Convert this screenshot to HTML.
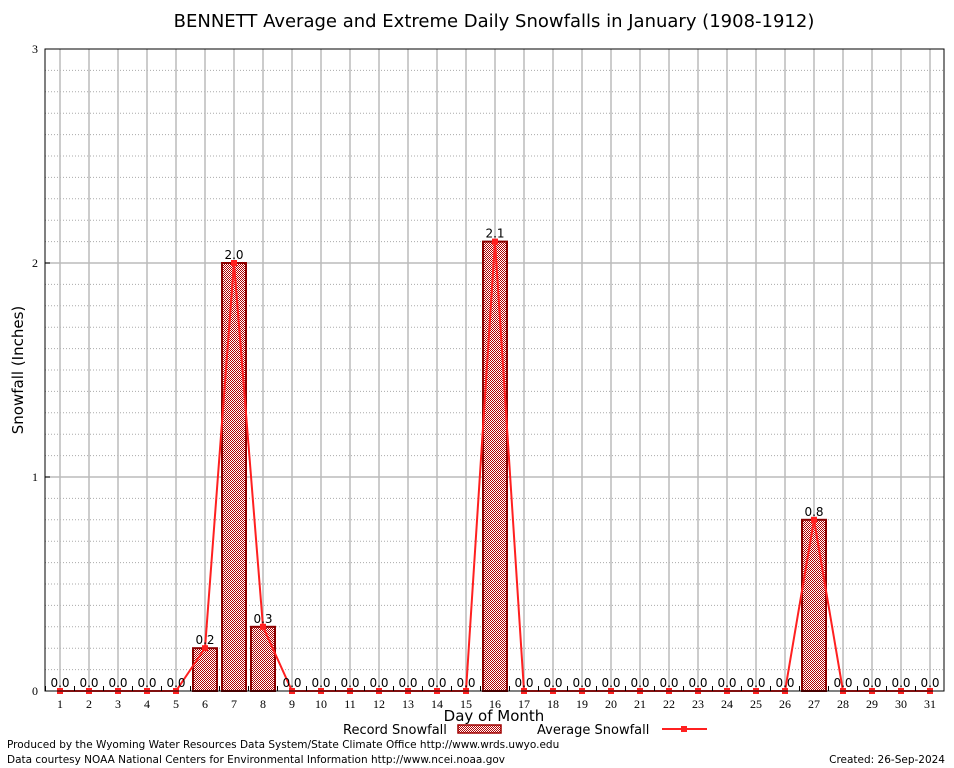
<!DOCTYPE html>
<html><head><meta charset="utf-8"><style>
body{margin:0;background:#fff;width:954px;height:768px;overflow:hidden}
svg{display:block}
</style></head><body>
<svg id="chart" width="954" height="768" xmlns="http://www.w3.org/2000/svg">
<defs>
<pattern id="chk" width="2" height="2" patternUnits="userSpaceOnUse">
<rect width="2" height="2" fill="#fff" shape-rendering="crispEdges"/><rect width="1" height="1" fill="#b00000" shape-rendering="crispEdges"/><rect x="1" y="1" width="1" height="1" fill="#b00000" shape-rendering="crispEdges"/>
</pattern>
</defs>
<rect width="954" height="768" fill="#fff"/>
<text x="494" y="27" text-anchor="middle" font-family="DejaVu Sans, Liberation Sans, sans-serif" font-size="18">BENNETT Average and Extreme Daily Snowfalls in January (1908-1912)</text>
<g id="grid"></g>
<g id="bars"></g>
<g id="line"></g>
<g id="labels"></g>
<g id="ticks"></g>
<rect x="45" y="49" width="899" height="642" fill="none" stroke="#000" stroke-width="1"/>
<text x="23" y="370" transform="rotate(-90 23 370)" text-anchor="middle" font-family="DejaVu Sans, Liberation Sans, sans-serif" font-size="15">Snowfall (Inches)</text>
<text x="494" y="721" text-anchor="middle" font-family="DejaVu Sans, Liberation Sans, sans-serif" font-size="15">Day of Month</text>
<g>
<text x="343" y="734" font-family="DejaVu Sans, Liberation Sans, sans-serif" font-size="13">Record Snowfall</text>
<rect x="458" y="725" width="43" height="8" fill="url(#chk)" stroke="#a00000" stroke-width="1.5"/>
<text x="537" y="734" font-family="DejaVu Sans, Liberation Sans, sans-serif" font-size="13">Average Snowfall</text>
<line x1="662" y1="729" x2="707" y2="729" stroke="#ff2020" stroke-width="2"/>
<rect x="681" y="726" width="6" height="6" fill="#ff2020"/>
</g>
<text x="7" y="748" font-family="DejaVu Sans, Liberation Sans, sans-serif" font-size="10.5">Produced by the Wyoming Water Resources Data System/State Climate Office http://www.wrds.uwyo.edu</text>
<text x="7" y="763" font-family="DejaVu Sans, Liberation Sans, sans-serif" font-size="10.5">Data courtesy NOAA National Centers for Environmental Information http://www.ncei.noaa.gov</text>
<text x="945" y="763" text-anchor="end" font-family="DejaVu Sans, Liberation Sans, sans-serif" font-size="10.5">Created:  26-Sep-2024</text>
</svg>
<script>
const days=[1,2,3,4,5,6,7,8,9,10,11,12,13,14,15,16,17,18,19,20,21,22,23,24,25,26,27,28,29,30,31];
const recordSnow=[0,0,0,0,0,0.2,2.0,0.3,0,0,0,0,0,0,0,2.1,0,0,0,0,0,0,0,0,0,0,0.8,0,0,0,0];
const avgSnow=[0,0,0,0,0,0.2,2.0,0.3,0,0,0,0,0,0,0,2.1,0,0,0,0,0,0,0,0,0,0,0.8,0,0,0,0];
const yTicks=[0,1,2,3];
const NS="http://www.w3.org/2000/svg";
const X=d=>60+(d-1)*29;
const Y=v=>691-v*214;
function mk(tag,attrs,parent){const e=document.createElementNS(NS,tag);for(const k in attrs)e.setAttribute(k,attrs[k]);document.getElementById(parent).appendChild(e);return e;}
for(let i=1;i<30;i++){if(i%10===0)continue;const v=i/10;
const l=mk('line',{x1:45,x2:944,y1:Y(v),y2:Y(v),stroke:'#aaa','stroke-dasharray':'1,2','stroke-width':1},'grid');

}
yTicks.forEach(v=>{
if(v>0&&v<3){const l=mk('line',{x1:45,x2:944,y1:Y(v),y2:Y(v),stroke:'#bbb','stroke-width':1.5},'grid');

}
const t=mk('text',{x:38,y:Y(v)+4,'text-anchor':'end','font-family':'Liberation Serif, serif','font-size':12},'ticks');
t.textContent=v;


const tk=mk('line',{x1:45,x2:50,y1:Y(v),y2:Y(v),stroke:'#000'},'ticks');


});
days.forEach((d,i)=>{
const g=mk('line',{x1:X(d),x2:X(d),y1:49,y2:691,stroke:'#bbb','stroke-width':1.5},'grid');


const t=mk('text',{x:X(d),y:708,'text-anchor':'middle','font-family':'Liberation Serif, serif','font-size':12},'ticks');
t.textContent=d;


const tk=mk('line',{x1:X(d)-14.5,x2:X(d)-14.5,y1:686,y2:691,stroke:'#000'},'ticks');


const v=recordSnow[i];
if(v>0){const b=mk('rect',{x:X(d)-12,y:Y(v),width:24,height:691-Y(v),fill:'url(#chk)',stroke:'#8b0000','stroke-width':2},'bars');

}
const lb=mk('text',{x:X(d),y:Y(v)-4,'text-anchor':'middle','font-family':'DejaVu Sans, Liberation Sans, sans-serif','font-size':12},'labels');
lb.textContent=v.toFixed(1);


});
const pts=days.map((d,i)=>X(d)+','+Y(avgSnow[i])).join(' ');
const pl=mk('polyline',{points:pts,fill:'none',stroke:'#ff2020','stroke-width':2},'line');


days.forEach((d,i)=>{
const m=mk('rect',{x:X(d)-3,y:Y(avgSnow[i])-3,width:6,height:6,fill:'#ff2020'},'line');


});
</script>
</body></html>
